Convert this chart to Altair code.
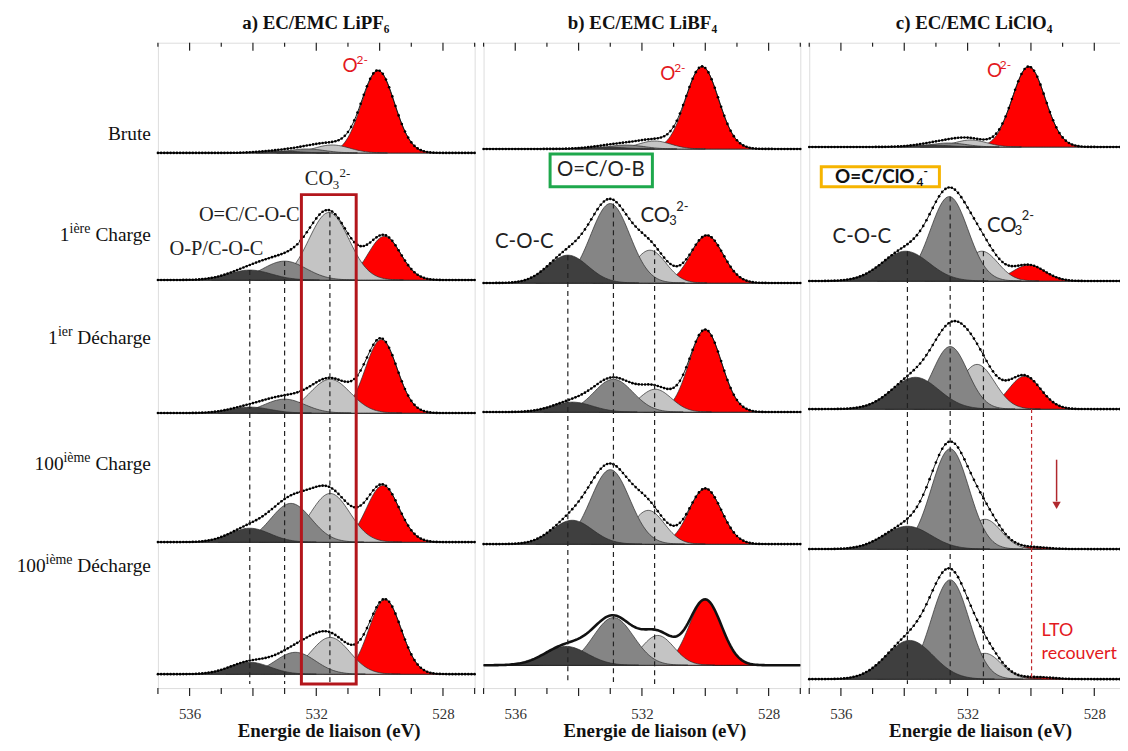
import altair as alt
import numpy as np
import pandas as pd

# ---------------- data ----------------
PANEL_KEYS = ["a", "b", "c"]
PANEL_TITLES = ["a) EC/EMC  LiPF₆", "b) EC/EMC  LiBF₄", "c) EC/EMC  LiClO₄"]
ROW_NAMES = ["Brute", "1ière Charge", "1ier Décharge", "100ième Charge", "100ième Décharge"]
COMPONENTS = ["C-O-C", "O=C", "CO3", "O2-"]
COMPONENT_FILLS = ["#3f3f3f", "#858585", "#c4c4c4", "#ff0000"]

X_TICKS = [537, 536, 535, 534, 533, 532, 531, 530, 529, 528, 527]
X_TICK_LABELS = [536, 532, 528]
X_TITLE = "Energie de liaison (eV)"

# vertical offset (baseline) of each spectrum, rows top -> bottom
BASELINES_A = [539, 411, 277, 147, 14]
BASELINES_B = [543, 408, 278, 145, 23]
BASELINES_C = [545, 410, 281, 140, 9]

# component peaks: [C-O-C, O=C..., CO3, O2-] per row
CENTERS_A = [[533.2, 532.3, 531.5, 530.05],
             [534.1, 533.0, 531.6, 529.85],
             [534.1, 533.0, 531.56, 529.95],
             [534.1, 532.8, 531.56, 529.9],
             [534.1, 532.66, 531.56, 529.83]]
HEIGHTS_A = [[2, 4, 8, 83],
             [10, 19, 68, 44],
             [6, 14, 34, 74],
             [14, 39, 49, 57],
             [12, 22, 37, 75]]
FWHM_A = [[1.4, 1.3, 1.3, 1.22],
          [1.6, 1.6, 1.48, 1.2],
          [1.5, 1.5, 1.5, 1.18],
          [1.5, 1.5, 1.45, 1.2],
          [1.5, 1.5, 1.45, 1.2]]

CENTERS_B = [[533.2, 532.5, 531.6, 530.1],
             [534.34, 533.0, 531.75, 529.95],
             [534.2, 532.9, 531.58, 530.0],
             [534.2, 533.0, 531.8, 530.0],
             [534.4, 532.9, 531.5, 530.0]]
HEIGHTS_B = [[2, 4, 8, 83],
             [28, 80, 33, 48],
             [10, 33, 23, 83],
             [24, 75, 34, 56],
             [19, 48, 30, 66]]
FWHM_B = [[1.4, 1.3, 1.2, 1.22],
          [1.5, 1.45, 1.2, 1.2],
          [1.5, 1.45, 1.2, 1.2],
          [1.5, 1.45, 1.2, 1.2],
          [1.6, 1.5, 1.2, 1.2]]

CENTERS_C = [[533.2, 532.6, 531.9, 530.07],
             [533.96, 532.58, 531.55, 530.07],
             [533.65, 532.55, 531.7, 530.2],
             [533.9, 532.55, 531.45, 530.0],
             [533.83, 532.55, 531.45, 529.8]]
HEIGHTS_C = [[2, 4, 7, 81],
             [30, 85, 30, 16],
             [32, 63, 45, 33],
             [23, 101, 30, 2],
             [39, 100, 26, 2]]
FWHM_C = [[1.4, 1.3, 1.2, 1.22],
          [1.75, 1.4, 1.2, 1.2],
          [1.75, 1.3, 1.3, 1.2],
          [1.75, 1.4, 1.2, 1.2],
          [1.75, 1.4, 1.2, 1.2]]

# dashed guide lines (eV) per panel
DASHED_A = [534.1, 533.0, 531.57]
DASHED_B = [534.34, 532.9, 531.6]
DASHED_C = [533.9, 532.55, 531.5]
LTO_LINE_C = 529.98

# highlight boxes: (E_left, E_right, y_top, y_bottom)
BOX_A = (532.47, 530.74, 497, 4)
BOX_B = (534.9, 531.67, 538, 505)
BOX_C = (536.62, 532.89, 525, 505)
ARROW_C = (529.19, 230, 188, 184)

THICK_ENVELOPES = [("b", 4)]

DATA = {
    "a": (BASELINES_A, CENTERS_A, HEIGHTS_A, FWHM_A, DASHED_A),
    "b": (BASELINES_B, CENTERS_B, HEIGHTS_B, FWHM_B, DASHED_B),
    "c": (BASELINES_C, CENTERS_C, HEIGHTS_C, FWHM_C, DASHED_C),
}

# ---------------- style ----------------
W, H = 319, 650
XDOM = [537, 527]
SERIF = "Liberation Serif"
SANS = "Lato"
RED_TXT = "#e3191e"
DARK_RED = "#b3161c"

AXIS = alt.Axis(
    values=X_TICKS,
    labelExpr=f"indexof({X_TICK_LABELS}, datum.value) >= 0 ? datum.label : ''",
    ticks=False, domain=False, grid=False,
    labelFont=SERIF, labelFontSize=15, labelColor="#333", labelPadding=19,
    labelOverlap=False, labelFlush=False,
    title=X_TITLE, titleFont=SERIF, titleFontSize=19, titleFontWeight="bold",
    titleColor="#111", titleX=172, titleY=43, titleBaseline="middle", titleAlign="center",
)


def xenc(field):
    return alt.X(field, type="quantitative",
                 scale=alt.Scale(domain=XDOM, nice=False, zero=False), axis=AXIS)


def yenc(field):
    return alt.Y(field, type="quantitative",
                 scale=alt.Scale(domain=[0, H], nice=False, zero=False), axis=None)


def gauss(e, c, h, w):
    return h * np.exp(-4 * np.log(2) * (e - c) ** 2 / w ** 2)


E = np.round(np.arange(527.0, 537.0001, 0.05), 3)
E_DOTS = np.round(np.arange(527.0, 537.0001, 0.1), 3)


def text_layer(t, x, y, size, font=SERIF, weight="normal", color="#111", align="left"):
    return alt.Chart(pd.DataFrame({"t": [t]})).mark_text(
        font=font, fontSize=size, fontWeight=weight, color=color, align=align, baseline="middle"
    ).encode(x=alt.value(x), y=alt.value(y), text="t:N")


# annotation pieces (panel-relative pixel positions): text, x, y, size, font, weight, color, align
ANNOT = {
    "a": [
        ("Brute", -7, 92, 19.5, SERIF, "normal", "#111", "right"),
        ("Charge", -7, 194, 19.5, SERIF, "normal", "#111", "right"),
        ("ière", -68, 188, 14, SERIF, "normal", "#111", "right"),
        ("1", -89, 194, 19.5, SERIF, "normal", "#111", "right"),
        ("Décharge", -7, 297, 19.5, SERIF, "normal", "#111", "right"),
        ("ier", -86, 291, 14, SERIF, "normal", "#111", "right"),
        ("1", -101, 297, 19.5, SERIF, "normal", "#111", "right"),
        ("Charge", -7, 424, 19.5, SERIF, "normal", "#111", "right"),
        ("ième", -68, 418, 14, SERIF, "normal", "#111", "right"),
        ("100", -95, 424, 19.5, SERIF, "normal", "#111", "right"),
        ("Décharge", -7, 527, 19.5, SERIF, "normal", "#111", "right"),
        ("ième", -86, 521, 14, SERIF, "normal", "#111", "right"),
        ("100", -113, 527, 19.5, SERIF, "normal", "#111", "right"),
        ("O", 186, 23, 19, SANS, "normal", RED_TXT, "left"),
        ("2-", 200, 17, 12, SANS, "normal", RED_TXT, "left"),
        ("O=C/C-O-C", 92, 174, 20.5, SERIF, "normal", "#222", "center"),
        ("O-P/C-O-C", 59, 208, 20.5, SERIF, "normal", "#222", "center"),
        ("CO", 148, 137, 20.5, SERIF, "normal", "#222", "left"),
        ("3", 176, 143, 13, SERIF, "normal", "#222", "left"),
        ("2-", 183, 131, 13, SERIF, "normal", "#222", "left"),
    ],
    "b": [
        ("O", 178, 32, 19, SANS, "normal", RED_TXT, "left"),
        ("2-", 192, 25, 12, SANS, "normal", RED_TXT, "left"),
        ("O=C/O-B", 118, 128.5, 20.5, SANS, "normal", "#222", "center"),
        ("C-O-C", 41, 201, 20.5, SANS, "normal", "#222", "center"),
        ("CO", 158, 174.5, 20.5, SANS, "normal", "#222", "left"),
        ("3", 187, 180, 13, SANS, "normal", "#222", "left"),
        ("2-", 194, 165, 13, SANS, "normal", "#222", "left"),
    ],
    "c": [
        ("O", 179, 28.5, 19, SANS, "normal", RED_TXT, "left"),
        ("2-", 192, 22, 12, SANS, "normal", RED_TXT, "left"),
        ("O=C/ClO", 26, 135, 19, SANS, "bold", "#111", "left"),
        ("4", 108, 140, 12, SANS, "bold", "#111", "left"),
        ("-", 115, 129, 12, SANS, "bold", "#111", "left"),
        ("C-O-C", 53, 196, 20.5, SANS, "normal", "#222", "center"),
        ("CO", 179, 184.5, 20.5, SANS, "normal", "#222", "left"),
        ("3", 207, 190, 13, SANS, "normal", "#222", "left"),
        ("2-", 214, 175, 13, SANS, "normal", "#222", "left"),
        ("LTO", 234, 593, 18, SANS, "normal", RED_TXT, "left"),
        ("recouvert", 234, 616, 18, SANS, "normal", RED_TXT, "left"),
    ],
}
TITLE_X = {"a": 159, "b": 160, "c": 166}
BOX_COLORS = {"a": DARK_RED, "b": "#1ea84c", "c": "#f6b400"}
BOXES = {"a": BOX_A, "b": BOX_B, "c": BOX_C}


def build_panel(i):
    key = PANEL_KEYS[i]
    base, cen, hei, fw, dashed = DATA[key]
    comp_recs, env_recs, dot_recs = [], [], []
    for r in range(5):
        tot = np.zeros_like(E)
        for k in range(4):
            g = gauss(E, cen[r][k], hei[r][k], fw[r][k])
            tot = tot + g
            m = g > 0.05
            for e, v in zip(E[m], g[m]):
                comp_recs.append({"row": r, "comp": k, "E": float(e),
                                  "y": base[r] + float(v), "y0": base[r]})
        thick = (key, r) in THICK_ENVELOPES
        for e, v in zip(E, tot):
            env_recs.append({"row": r, "E": float(e), "y": base[r] + float(v), "thick": thick})
        if not thick:
            tot_d = sum(gauss(E_DOTS, cen[r][k], hei[r][k], fw[r][k]) for k in range(4))
            for e, v in zip(E_DOTS, tot_d):
                dot_recs.append({"row": r, "E": float(e), "y": base[r] + float(v)})
    comp_df = pd.DataFrame(comp_recs)
    env_df = pd.DataFrame(env_recs)
    dot_df = pd.DataFrame(dot_recs)

    layers = []
    layers.append(alt.Chart(pd.DataFrame({"b": base})).mark_rule(color="#111", strokeWidth=1.3)
                  .encode(y=yenc("b"), x=alt.value(0), x2=alt.value(W)))
    for k in [3, 2, 1, 0]:
        layers.append(alt.Chart(comp_df).transform_filter(f"datum.comp == {k}")
                      .mark_area(color=COMPONENT_FILLS[k], stroke="#2a2a2a", strokeWidth=0.7)
                      .encode(x=xenc("E"), y=yenc("y"), y2="y0", detail="row:N"))
    layers.append(alt.Chart(env_df).transform_filter("!datum.thick")
                  .mark_line(color="#111", strokeWidth=1.0)
                  .encode(x=xenc("E"), y=yenc("y"), detail="row:N"))
    if env_df["thick"].any():
        layers.append(alt.Chart(env_df).transform_filter("datum.thick")
                      .mark_line(color="#111", strokeWidth=2.6)
                      .encode(x=xenc("E"), y=yenc("y"), detail="row:N"))
    layers.append(alt.Chart(dot_df).mark_point(filled=True, size=7, color="#000", opacity=1)
                  .encode(x=xenc("E"), y=yenc("y")))
    dd = pd.DataFrame({"E": dashed, "top": [base[1] + hei[1][k] for k in range(3)], "bot": [4, 4, 4]})
    layers.append(alt.Chart(dd).mark_rule(color="#222", strokeWidth=1.2, strokeDash=[5, 4])
                  .encode(x=xenc("E"), y=yenc("top"), y2="bot"))
    bx = BOXES[key]
    bdf = pd.DataFrame({"x1": [bx[0]], "x2": [bx[1]], "y1": [bx[2]], "y2": [bx[3]]})
    layers.append(alt.Chart(bdf).mark_rect(fillOpacity=0, stroke=BOX_COLORS[key], strokeWidth=3)
                  .encode(x=xenc("x1"), x2="x2", y=yenc("y1"), y2="y2"))
    if key == "c":
        ld = pd.DataFrame({"E": [LTO_LINE_C], "top": [base[2]], "bot": [8]})
        layers.append(alt.Chart(ld).mark_rule(color="#c0282d", strokeWidth=1.2, strokeDash=[4, 3])
                      .encode(x=xenc("E"), y=yenc("top"), y2="bot"))
        ad = pd.DataFrame({"E": [ARROW_C[0]], "top": [ARROW_C[1]], "bot": [ARROW_C[2]], "head": [ARROW_C[3]]})
        layers.append(alt.Chart(ad).mark_rule(color="#b0282e", strokeWidth=1.5)
                      .encode(x=xenc("E"), y=yenc("top"), y2="bot"))
        layers.append(alt.Chart(ad).mark_point(shape="triangle-down", filled=True, size=70,
                                               color="#b0282e", opacity=1)
                      .encode(x=xenc("E"), y=yenc("head")))
    td = pd.DataFrame({"E": X_TICKS})
    td["major"] = [v % 2 == 0 for v in X_TICKS]
    td["b0"] = 0
    td["b1"] = [-8 if m else -6 for m in td["major"]]
    td["t0"] = H
    td["t1"] = [H - 8 if m else H - 4 for m in td["major"]]
    layers.append(alt.Chart(td).mark_rule(color="#222", strokeWidth=1.2)
                  .encode(x=xenc("E"), y=yenc("b0"), y2="b1"))
    layers.append(alt.Chart(td).mark_rule(color="#222", strokeWidth=1.2)
                  .encode(x=xenc("E"), y=yenc("t0"), y2="t1"))
    layers.append(text_layer(PANEL_TITLES[i], TITLE_X[key], -20, 19, SERIF, "bold", "#111", "center"))
    for (t, x, y, s, f, wgt, col, al) in ANNOT[key]:
        layers.append(text_layer(t, x, y, s, f, wgt, col, al))
    return alt.layer(*layers).properties(width=W, height=H)


chart = alt.hconcat(*[build_panel(i) for i in range(3)], spacing=9, bounds="flush").properties(
    autosize=alt.AutoSizeParams(type="none"),
    padding={"left": 151, "top": 30, "right": 969, "bottom": 699},
).configure_view(stroke="#222", strokeWidth=1.5).configure(background="white")

chart.save("out.html", embed_options={"renderer": "svg", "actions": False})
